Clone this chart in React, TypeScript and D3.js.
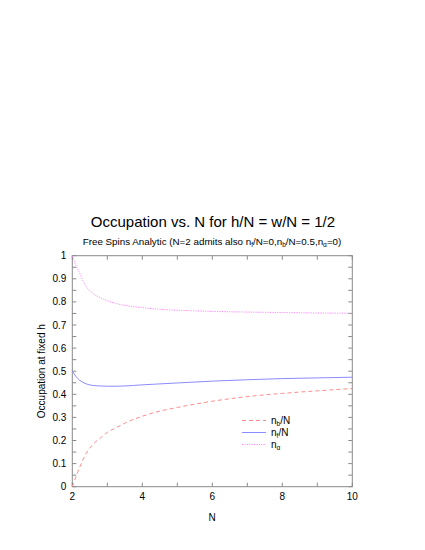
import React from "react";
import * as d3 from "d3";

// sample points
const nValues = [2, 2.1, 2.2, 2.3, 2.4, 2.6, 2.8, 3, 3.25, 3.5, 4, 4.5, 5, 6, 7, 8, 9, 10];
const nbOverN = [0, 0.042, 0.08, 0.115, 0.145, 0.185, 0.21, 0.235, 0.255, 0.275, 0.305, 0.327, 0.343, 0.37, 0.39, 0.404, 0.415, 0.425];
const nfOverN = [0.5, 0.478, 0.462, 0.452, 0.445, 0.438, 0.436, 0.435, 0.435, 0.436, 0.441, 0.445, 0.449, 0.457, 0.463, 0.468, 0.471, 0.474];
const nAlpha = [1.0, 0.96, 0.928, 0.893, 0.866, 0.835, 0.818, 0.805, 0.793, 0.785, 0.775, 0.768, 0.764, 0.759, 0.756, 0.754, 0.752, 0.751];

const xTicks = [2, 4, 6, 8, 10];
const xMinorTicks = [3, 5, 7, 9];
const yTicks = [0, 0.1, 0.2, 0.3, 0.4, 0.5, 0.6, 0.7, 0.8, 0.9, 1];
const yMinorTicks = [0.05, 0.15, 0.25, 0.35, 0.45, 0.55, 0.65, 0.75, 0.85, 0.95];

const seriesList = [
  { key: "nb", sub: "b", tail: "/N", values: nbOverN, color: "#ff8c8c", dash: "4,3" },
  { key: "nf", sub: "f", tail: "/N", values: nfOverN, color: "#8c8cff", dash: null },
  { key: "na", sub: "α", tail: "", values: nAlpha, color: "#ff8cff", dash: "1.2,1.2" },
];

const font = "'Liberation Sans', Arial, Helvetica, sans-serif";

const App = () => {
  const width = 425;
  const height = 550;
  const left = 72.3;
  const right = 352.3;
  const top = 255.7;
  const bottom = 486.7;

  const x = d3.scaleLinear().domain([2, 10]).range([left, right]);
  const y = d3.scaleLinear().domain([0, 1]).range([bottom, top]);

  const line = d3
    .line<number>()
    .x((d, i) => x(nValues[i]))
    .y((d) => y(d))
    .curve(d3.curveMonotoneX);

  const axisColor = "#8a8a8a";

  return (
    <svg width={width} height={height} style={{ position: "absolute", left: 0, top: 0, background: "#fff" }} fontFamily={font}>
      <text x={213} y={227} textAnchor="middle" fontSize={15} fill="#000">
        Occupation vs. N for h/N = w/N = 1/2
      </text>
      <text x={212} y={245} textAnchor="middle" fontSize={9.8} fill="#000">
        Free Spins Analytic (N=2 admits also n
        <tspan fontSize={6.5} dy={2}>f</tspan>
        <tspan dy={-2}>/N=0,n</tspan>
        <tspan fontSize={6.5} dy={2}>b</tspan>
        <tspan dy={-2}>/N=0.5,n</tspan>
        <tspan fontSize={6.5} dy={2}>α</tspan>
        <tspan dy={-2}>=0)</tspan>
      </text>

      {/* frame */}
      <rect x={left} y={top} width={right - left} height={bottom - top} fill="none" stroke={axisColor} strokeWidth={1} />

      {/* x ticks */}
      {xTicks.concat(xMinorTicks).map((t) => (
        <g key={"x" + t}>
          <line x1={x(t)} x2={x(t)} y1={bottom} y2={bottom - 4} stroke={axisColor} />
          <line x1={x(t)} x2={x(t)} y1={top} y2={top + 4} stroke={axisColor} />
        </g>
      ))}
      {xTicks.map((t) => (
        <text key={"xl" + t} x={x(t)} y={bottom + 13} textAnchor="middle" fontSize={10} fill="#000">
          {t}
        </text>
      ))}

      {/* y ticks */}
      {yTicks.concat(yMinorTicks).map((t) => (
        <g key={"y" + t}>
          <line x1={left} x2={left + 4} y1={y(t)} y2={y(t)} stroke={axisColor} />
          <line x1={right} x2={right - 4} y1={y(t)} y2={y(t)} stroke={axisColor} />
        </g>
      ))}
      {yTicks.map((t) => (
        <text key={"yl" + t} x={left - 6} y={y(t) + 3.5} textAnchor="end" fontSize={10} fill="#000">
          {d3.format("~g")(t)}
        </text>
      ))}

      <text x={212} y={521} textAnchor="middle" fontSize={10} fill="#000">
        N
      </text>
      <text transform={`translate(45,${(top + bottom) / 2}) rotate(-90)`} textAnchor="middle" fontSize={10} fill="#000">
        Occupation at fixed h
      </text>

      {/* curves */}
      {seriesList.map((s) => (
        <path
          key={s.key}
          d={line(s.values) || ""}
          fill="none"
          stroke={s.color}
          strokeWidth={1}
          strokeDasharray={s.dash || undefined}
        />
      ))}

      {/* legend */}
      {seriesList.map((s, i) => {
        const ly = 420.5 + i * 12;
        return (
          <g key={"lg" + s.key}>
            <line x1={242} x2={266} y1={ly} y2={ly} stroke={s.color} strokeWidth={1} strokeDasharray={s.dash || undefined} />
            <text x={271} y={ly + 3.5} fontSize={10} fill="#000">
              n
              <tspan fontSize={6.5} dy={2}>{s.sub}</tspan>
              <tspan dy={-2}>{s.tail}</tspan>
            </text>
          </g>
        );
      })}
    </svg>
  );
};

export default App;
